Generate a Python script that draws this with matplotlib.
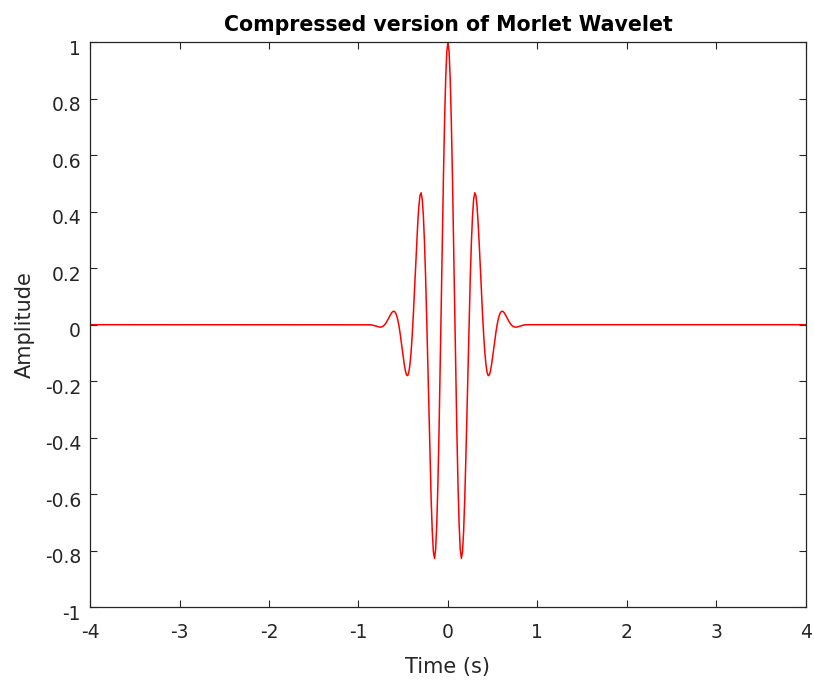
import matplotlib
matplotlib.use("Agg")
import matplotlib.pyplot as plt
from matplotlib.transforms import ScaledTranslation

# Sample values (time in s, amplitude); flat at 0 outside |t| > 0.9
time_s = [-4.0,
          -0.9, -0.8875, -0.875, -0.8625, -0.85, -0.8375, -0.825, -0.8125, -0.8, -0.7875,
          -0.775, -0.7625, -0.75, -0.7375, -0.725, -0.7125, -0.7, -0.6875, -0.675, -0.6625,
          -0.65, -0.6375, -0.625, -0.6125, -0.6, -0.5875, -0.575, -0.5625, -0.55, -0.5375,
          -0.525, -0.5125, -0.5, -0.4875, -0.475, -0.4625, -0.45, -0.4375, -0.425, -0.4125,
          -0.4, -0.3875, -0.375, -0.3625, -0.35, -0.3375, -0.325, -0.3125, -0.3, -0.2875,
          -0.275, -0.2625, -0.25, -0.2375, -0.225, -0.2125, -0.2, -0.1875, -0.175, -0.1625,
          -0.15, -0.1375, -0.125, -0.1125, -0.1, -0.0875, -0.075, -0.0625, -0.05, -0.0375,
          -0.025, -0.0125, 0.0,
          0.0125, 0.025, 0.0375, 0.05, 0.0625, 0.075, 0.0875, 0.1, 0.1125, 0.125,
          0.1375, 0.15, 0.1625, 0.175, 0.1875, 0.2, 0.2125, 0.225, 0.2375, 0.25,
          0.2625, 0.275, 0.2875, 0.3, 0.3125, 0.325, 0.3375, 0.35, 0.3625, 0.375,
          0.3875, 0.4, 0.4125, 0.425, 0.4375, 0.45, 0.4625, 0.475, 0.4875, 0.5,
          0.5125, 0.525, 0.5375, 0.55, 0.5625, 0.575, 0.5875, 0.6, 0.6125, 0.625,
          0.6375, 0.65, 0.6625, 0.675, 0.6875, 0.7, 0.7125, 0.725, 0.7375, 0.75,
          0.7625, 0.775, 0.7875, 0.8, 0.8125, 0.825, 0.8375, 0.85, 0.8625, 0.875,
          0.8875, 0.9,
          4.0]
amplitude = [0.0,
             0.0, 0.0, 0.0, -0.0003, -0.0009, -0.0018, -0.003, -0.0044, -0.0057, -0.007,
             -0.008, -0.0086, -0.0084, -0.0074, -0.0053, -0.0019, 0.0027, 0.0086, 0.0155, 0.0231,
             0.0309, 0.0381, 0.0438, 0.0473, 0.0474, 0.0433, 0.0343, 0.02, 0.0004, -0.0241,
             -0.0524, -0.083, -0.1135, -0.1416, -0.164, -0.1779, -0.1803, -0.1689, -0.1419, -0.0989,
             -0.0405, 0.0312, 0.1125, 0.1985, 0.283, 0.359, 0.4196, 0.4576, 0.467, 0.4445,
             0.387, 0.2951, 0.172, 0.0239, -0.1406, -0.3109, -0.475, -0.6194, -0.733, -0.8048,
             -0.827, -0.7946, -0.707, -0.5677, -0.384, -0.1676, 0.0676, 0.3056, 0.530, 0.7235,
             0.873, 0.9677, 1.0,
             0.9677, 0.873, 0.7235, 0.530, 0.3056, 0.0676, -0.1676, -0.384, -0.5677, -0.707,
             -0.7946, -0.827, -0.8048, -0.733, -0.6194, -0.475, -0.3109, -0.1406, 0.0239, 0.172,
             0.2951, 0.387, 0.4445, 0.467, 0.4576, 0.4196, 0.359, 0.283, 0.1985, 0.1125,
             0.0312, -0.0405, -0.0989, -0.1419, -0.1689, -0.1803, -0.1779, -0.164, -0.1416, -0.1135,
             -0.083, -0.0524, -0.0241, 0.0004, 0.02, 0.0343, 0.0433, 0.0474, 0.0473, 0.0438,
             0.0381, 0.0309, 0.0231, 0.0155, 0.0086, 0.0027, -0.0019, -0.0053, -0.0074, -0.0084,
             -0.0086, -0.008, -0.007, -0.0057, -0.0044, -0.003, -0.0018, -0.0009, -0.0003, 0.0,
             0.0, 0.0,
             0.0]

x_ticks = [-4, -3, -2, -1, 0, 1, 2, 3, 4]
x_tick_labels = ["-4", "-3", "-2", "-1", "0", "1", "2", "3", "4"]
y_ticks = [-1, -0.8, -0.6, -0.4, -0.2, 0, 0.2, 0.4, 0.6, 0.8, 1]
y_tick_labels = ["-1", "-0.8", "-0.6", "-0.4", "-0.2", "0", "0.2", "0.4", "0.6", "0.8", "1"]

plt.rcParams['font.family'] = ['DejaVu Sans']

fig = plt.figure(figsize=(8.14, 6.8), dpi=100)
ax = fig.add_axes([0.1106, 0.107, 0.8794, 0.831])
ax.plot(time_s, amplitude, color='red', linewidth=1.1)

ax.set_xlim(-4, 4)
ax.set_ylim(-1, 1)
ax.set_xticks(x_ticks)
ax.set_xticklabels(x_tick_labels)
ax.set_yticks(y_ticks)
ax.set_yticklabels(y_tick_labels)

edge = '#262626'
for s in ax.spines.values():
    s.set_color(edge)
    s.set_linewidth(0.9)
ax.tick_params(direction='in', top=True, right=True, length=5, width=0.8,
               color=edge, labelcolor=edge, labelsize=13.5)
ax.tick_params(axis='x', pad=11)
ax.tick_params(axis='y', pad=6.5)

# MATLAB places y tick labels slightly below their ticks
shift = ScaledTranslation(0, -3.5 / 72, fig.dpi_scale_trans)
for lab in ax.get_yticklabels():
    lab.set_transform(lab.get_transform() + shift)

ax.set_title("Compressed version of Morlet Wavelet", fontsize=14.8, fontweight='bold',
             color='black', pad=8)
ax.set_xlabel("Time (s)", fontsize=15, color=edge, labelpad=11)
ax.set_ylabel("Amplitude", fontsize=15, color=edge, labelpad=7)

fig.savefig("out.png", dpi=100, facecolor='white')
